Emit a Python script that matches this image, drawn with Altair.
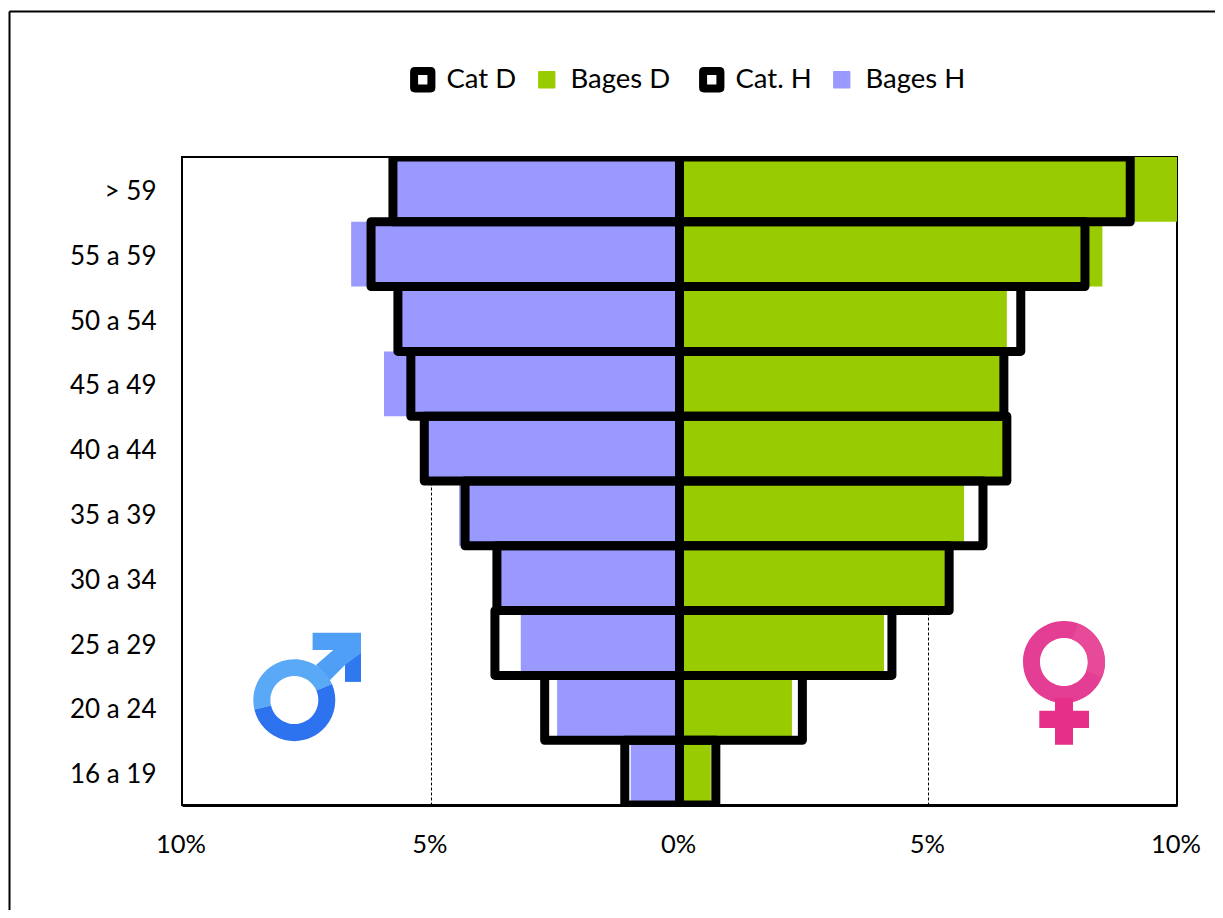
import altair as alt
import pandas as pd

ages = ["> 59", "55 a 59", "50 a 54", "45 a 49", "40 a 44", "35 a 39", "30 a 34", "25 a 29", "20 a 24", "16 a 19"]
cat_d = [9.06, 8.15, 6.86, 6.52, 6.58, 6.10, 5.42, 4.27, 2.47, 0.73]
bages_d = [10.0, 8.50, 6.58, 6.50, 6.55, 5.72, 5.35, 4.11, 2.26, 0.63]
cat_h = [5.76, 6.20, 5.66, 5.40, 5.13, 4.31, 3.67, 3.71, 2.71, 1.10]
bages_h = [5.76, 6.60, 5.60, 5.94, 5.10, 4.43, 3.60, 3.19, 2.46, 0.98]

series_names = ["Cat D", "Bages D", "Cat. H", "Bages H"]
series_fill = ["white", "#99CC00", "white", "#9999FF"]
series_stroke = ["black", "transparent", "black", "transparent"]
series_stroke_width = [8, 0, 8, 0]
ticks = [-10, -5, 0, 5, 10]

rows = []
for i, a in enumerate(ages):
    rows.append({"age": a, "series": "Cat D", "v": cat_d[i]})
    rows.append({"age": a, "series": "Bages D", "v": bages_d[i]})
    rows.append({"age": a, "series": "Cat. H", "v": -cat_h[i]})
    rows.append({"age": a, "series": "Bages H", "v": -bages_h[i]})
df = pd.DataFrame(rows)
one = alt.Data(values=[{"k": 1}])

FONT = "Lato"
W, H = 995, 648

x_enc = alt.X(
    "v:Q",
    scale=alt.Scale(domain=[-10, 10], nice=False, zero=False),
    axis=alt.Axis(
        values=ticks, title=None, labelExpr="abs(datum.value) + '%'", labelFont=FONT,
        labelFontSize=25.5, labelColor="black", labelPadding=27, tickSize=0, labelFlush=False,
        labelOffset=-1.5, grid=True, gridColor="black", gridDash=[3, 2], gridWidth=1,
        domainColor="black", domainWidth=3, zindex=0,
    ),
)
y_enc = alt.Y(
    "age:N", sort=ages,
    scale=alt.Scale(paddingInner=0, paddingOuter=0),
    axis=alt.Axis(
        title=None, labelFont=FONT, labelFontSize=26, labelColor="black",
        labelPadding=26, tickSize=0, domain=False, grid=False, labelOffset=2.5,
    ),
)
rounded = ("M-1 -0.9Q-1 -1 -0.9 -1L0.9 -1Q1 -1 1 -0.9L1 0.9Q1 1 0.9 1L-0.9 1Q-1 1 -1 0.9Z")
legend = alt.Legend(
    orient="none", legendX=227, legendY=-91, direction="horizontal", columns=4,
    title=None, symbolType=rounded, symbolSize=300,
    labelFont=FONT, labelFontSize=27.5, labelColor="black", labelOffset=10,
    columnPadding=16, gridAlign="none", symbolOpacity=1,
)

filled = alt.Chart(df).transform_filter(
    "datum.series == 'Bages D' || datum.series == 'Bages H'"
).mark_bar(clip=True).encode(
    x=x_enc, x2=alt.datum(0), y=y_enc,
    fill=alt.Fill("series:N", scale=alt.Scale(domain=series_names, range=series_fill), legend=legend),
    stroke=alt.Stroke("series:N", scale=alt.Scale(domain=series_names, range=series_stroke), legend=legend),
    strokeWidth=alt.StrokeWidth("series:N", scale=alt.Scale(type="ordinal", domain=series_names, range=series_stroke_width), legend=legend),
)
outlined = alt.Chart(df).transform_filter(
    "datum.series == 'Cat D' || datum.series == 'Cat. H'"
).mark_bar(clip=True, fillOpacity=0, stroke="black", strokeWidth=9, strokeJoin="round").encode(
    x=alt.X("v:Q"), x2=alt.datum(0), y=alt.Y("age:N", sort=ages),
)


def icon(path, color, cx, cy):
    return alt.Chart(one).mark_point(
        shape=path, size=4, filled=True, fill=color, opacity=1, strokeWidth=0, stroke="transparent",
    ).encode(x=alt.value(cx), y=alt.value(cy))


mx, my = 294.3 - 182, 700 - 157
fx, fy = 1064 - 182, 662 - 157
male_light = ("M-39.9 9.5A41 41 0 0 1 37.7 -16L22.1 -9.4A24 24 0 0 0 -23.3 5.6Z")
male_dark = ("M37.7 -16A41 41 0 1 1 -39.9 9.5L-23.3 5.6A24 24 0 1 0 22.1 -9.4Z")
male_arrow = ("M18.3 -67.3L66.7 -67.3L66.7 -18.3L50.7 -18.3L50.7 -35L35 -19.3L21.7 -35L39 -50L18.3 -50Z")
male_tip = ("M66.7 -46.7L66.7 -18.3L50.7 -18.3L50.7 -35Z")
fem_ring = ("M-41 0A41 41 0 1 1 41 0A41 41 0 1 1 -41 0Z"
            "M-24 0A24 24 0 1 0 24 0A24 24 0 1 0 -24 0Z")
fem_cross = "M-9 36L9 36L9 48.7L25 48.7L25 66L9 66L9 82.7L-9 82.7L-9 66L-24.7 66L-24.7 48.7L-9 48.7Z"
fem_shine = "M14 -38.5A41 41 0 0 1 38 15.5L22 9A24 24 0 0 0 8 -22.6Z"

frame_top = alt.Chart(one).mark_rule(color="black", strokeWidth=2).encode(
    x=alt.value(-172.5), x2=alt.value(1041), y=alt.value(-145.5))
frame_left = alt.Chart(one).mark_rule(color="black", strokeWidth=2).encode(
    x=alt.value(-172.5), y=alt.value(-145.5), y2=alt.value(761))

chart = alt.layer(
    filled, outlined,
    icon(male_arrow, "#4F9FF7", mx, my), icon(male_tip, "#2F78F0", mx, my),
    icon(male_light, "#5AA9F6", mx, my), icon(male_dark, "#2D72EF", mx, my),
    icon(fem_ring, "#E33E93", fx, fy), icon(fem_shine, "#E64A99", fx, fy),
    icon(fem_cross, "#E62F89", fx, fy),
    frame_top, frame_left,
).resolve_scale(fill="independent", stroke="independent", strokeWidth="independent").properties(
    width=W, height=H,
    padding={"left": 174, "top": 149, "right": 38, "bottom": 105},
    autosize=alt.AutoSizeParams(type="none"),
    background="white",
).configure_view(stroke="black", strokeWidth=2)

chart.save("out.html", embed_options={"renderer": "svg", "actions": False})
